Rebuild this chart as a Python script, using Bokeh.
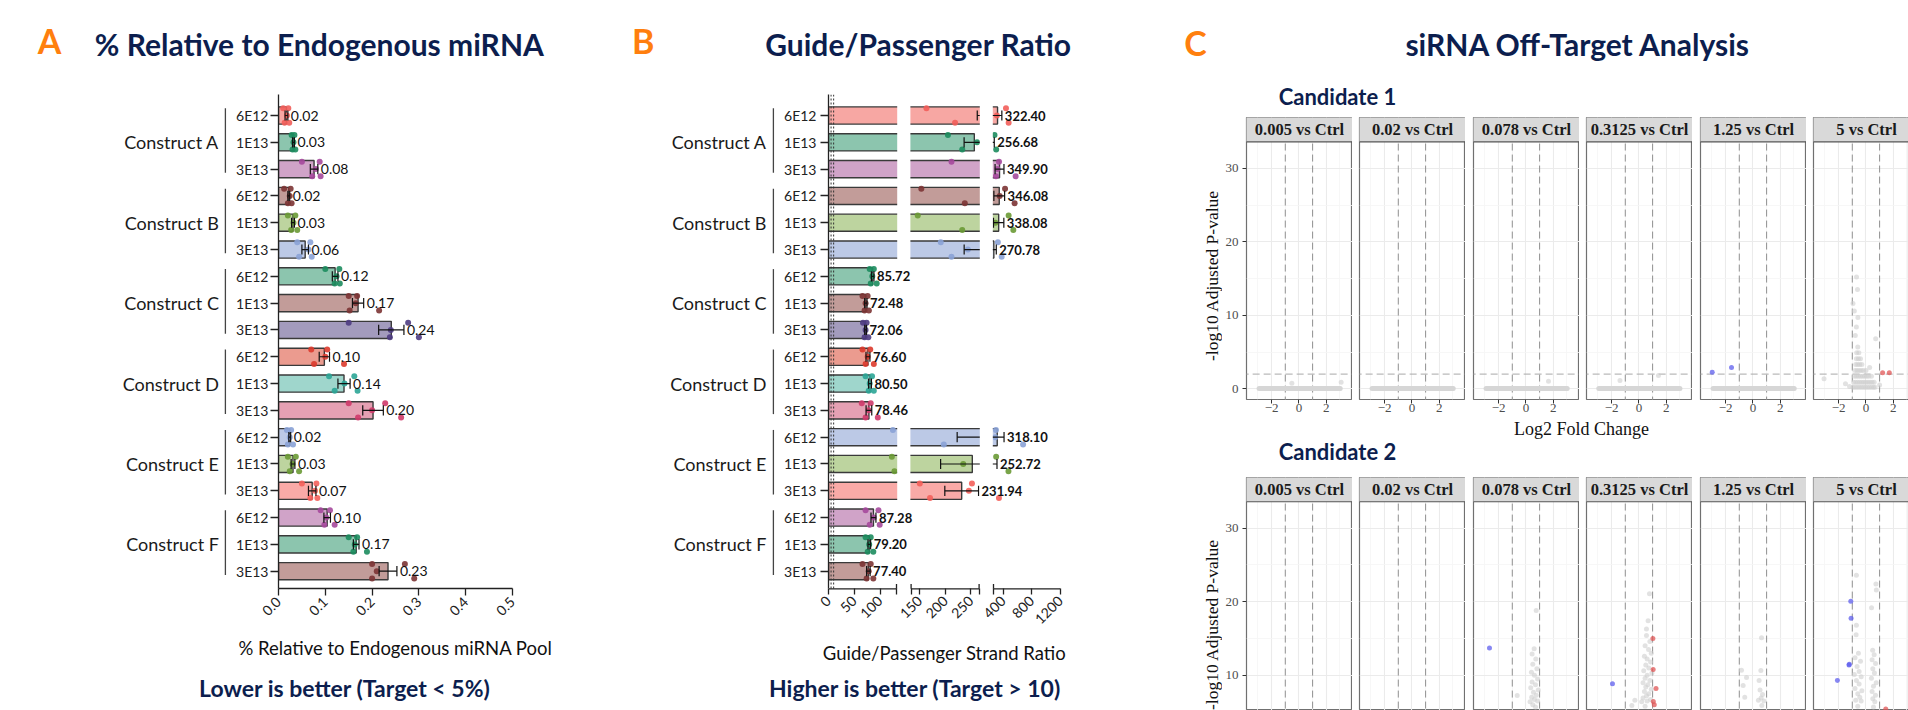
import math
from bokeh.plotting import figure
from bokeh.models import Range1d, FixedTicker, CustomJSTickFormatter, NumeralTickFormatter, Label
from bokeh.layouts import row, column
from bokeh.embed import file_html
from bokeh.resources import INLINE
from bokeh.core.properties import value

# ------------------------------------------------------------------ data
CONSTRUCTS = ["Construct A", "Construct B", "Construct C", "Construct D", "Construct E", "Construct F"]
DOSES = ["6E12", "1E13", "3E13"]
ROW_LABELS = [d for c in CONSTRUCTS for d in DOSES]

# Panel A: % relative to endogenous miRNA pool (mean, SEM, replicates)
REL_MEAN = [0.017, 0.032, 0.076, 0.022, 0.031, 0.057, 0.121, 0.170, 0.241,
            0.098, 0.140, 0.202, 0.024, 0.031, 0.072, 0.104, 0.166, 0.234]
REL_SEM = [0.003, 0.002, 0.008, 0.002, 0.003, 0.007, 0.006, 0.012, 0.027,
           0.011, 0.013, 0.022, 0.002, 0.004, 0.008, 0.007, 0.006, 0.019]
REL_PTS = [
    [0.010, 0.013, 0.018, 0.021, 0.023], [0.028, 0.030, 0.032, 0.034, 0.036], [0.050, 0.072, 0.080, 0.088, 0.090],
    [0.012, 0.020, 0.024, 0.026, 0.028], [0.020, 0.027, 0.032, 0.036, 0.040], [0.040, 0.044, 0.064, 0.068, 0.071],
    [0.100, 0.120, 0.124, 0.130, 0.131], [0.150, 0.152, 0.165, 0.168, 0.215], [0.150, 0.238, 0.240, 0.277, 0.300],
    [0.070, 0.076, 0.100, 0.104, 0.140], [0.108, 0.120, 0.141, 0.162, 0.169], [0.150, 0.170, 0.200, 0.228, 0.262],
    [0.018, 0.020, 0.024, 0.027, 0.031], [0.020, 0.024, 0.030, 0.037, 0.044], [0.050, 0.068, 0.078, 0.081, 0.083],
    [0.090, 0.098, 0.102, 0.110, 0.120], [0.150, 0.160, 0.163, 0.168, 0.189], [0.200, 0.200, 0.210, 0.270, 0.290],
]
REL_TICKS = [0.0, 0.1, 0.2, 0.3, 0.4, 0.5]

# Panel B: guide/passenger strand ratio
GP_MEAN = [322.40, 256.68, 349.90, 346.08, 338.08, 270.78, 85.72, 72.48, 72.06,
           76.60, 80.50, 78.46, 318.10, 252.72, 231.94, 87.28, 79.20, 77.40]
GP_SEM = [60, 20, 62, 75, 72, 34, 2.5, 2.3, 1.8, 3.8, 2.8, 5.5, 95, 62, 33, 4.8, 2.6, 3.4]
GP_PTS = [
    [163, 219, 313, 440, 477], [205, 233, 262, 280, 303.4], [212, 300, 320, 343, 574.5],
    [153, 238, 352, 427, 560.4], [146, 233, 292, 477, 542.4], [191, 212, 244, 327, 379.9],
    [80, 82, 85, 88, 93.6], [66, 70, 72, 76, 78.4], [67, 70, 72, 74, 77.3],
    [66, 72, 76, 81, 88], [72, 78, 80, 84.5, 88], [64.6, 72, 78, 82, 95.7],
    [125, 197, 290, 300, 678.5], [123, 128, 235, 303, 474.6], [150, 170, 246, 252, 341.7],
    [72, 80, 88, 97, 99.4], [72, 76, 79, 82, 87], [66, 74, 78, 82, 87],
]
GP_TICKS = [0, 50, 100, 150, 200, 250, 400, 800, 1200]
GP_REF_LINES = [5, 10]
# broken axis: (value_lo, value_hi) of each axis segment
GP_SEGMENTS = [(0, 132), (133, 266), (266, 1200)]

# Panel C: volcano facets
FACETS = ["0.005 vs Ctrl", "0.02 vs Ctrl", "0.078 vs Ctrl", "0.3125 vs Ctrl", "1.25 vs Ctrl", "5 vs Ctrl"]
LFC_TICKS = [-2, 0, 2]
LFC_MINOR = [-3, -1, 1, 3]
P_TICKS = [0, 10, 20, 30]
P_MINOR = [5, 15, 25]
LFC_CUT = [-1, 1]
P_CUT = 2

C1_BAND = [(-2.92, 3.02), (-2.92, 3.02), (-2.92, 3.02), (-2.94, 3.00), (-2.92, 3.02), None]
C1_GRAY = [
    [(-0.52, 0.76), (3.09, 0.9)],
    [],
    [(1.65, 1.03)],
    [(-1.39, 1.13), (1.43, 1.8)],
    [],
    [(-0.95, 0.2), (-0.8, 0.2), (-0.65, 0.2), (-0.5, 0.2), (-0.35, 0.2), (-0.2, 0.2), (-0.05, 0.2), (0.1, 0.2),
     (0.25, 0.2), (0.4, 0.2), (0.55, 0.2), (0.66, 0.2),
     (-0.9, 0.9), (-0.75, 0.9), (-0.6, 0.9), (-0.45, 0.9), (-0.3, 0.9), (-0.15, 0.9), (0.0, 0.9), (0.15, 0.9),
     (0.3, 0.9), (0.45, 0.9), (0.6, 0.9),
     (-0.85, 1.7), (-0.7, 1.7), (-0.55, 1.7), (-0.4, 1.7), (-0.25, 1.7), (-0.1, 1.7), (0.05, 1.7), (0.2, 1.7), (0.4, 1.7),
     (-0.8, 2.5), (-0.65, 2.5), (-0.5, 2.5), (-0.35, 2.5), (-0.2, 2.5), (0.0, 2.5),
     (-0.75, 3.3), (-0.6, 3.3), (-0.45, 3.3), (-0.3, 3.3),
     (-0.7, 4.1), (-0.55, 4.1), (-0.4, 4.1), (-0.68, 4.9), (-0.52, 4.9), (-0.6, 5.7),
     (-0.78, 7.25), (-0.7, 8.4), (-0.59, 9.7), (-0.85, 10.6), (-0.95, 11.6), (-0.62, 13.5), (-0.69, 15.2),
     (0.71, 6.8), (0.27, 2.9), (-3.07, 1.36), (-1.5, 0.68), (-1.2, 0.3), (1.0, 0.5)],
]
C1_BLUE = [[], [], [], [], [(-2.98, 2.26), (-1.57, 2.9)], []]
C1_RED = [[], [], [], [], [], [(1.22, 2.18), (1.71, 2.18)]]

C2_BAND = [None, None, None, None, None, None]
C2_GRAY = [
    [],
    [],
    [(0.75, 18.8), (0.6, 13.6), (0.45, 12.9), (0.72, 12.2), (0.5, 11.5), (0.8, 10.9), (0.4, 10.4), (0.62, 10.0),
     (0.85, 9.5), (0.45, 9.1), (0.7, 8.7), (0.35, 8.3), (0.9, 8.0), (0.55, 7.7), (0.75, 7.3), (0.42, 7.0),
     (0.62, 6.7), (0.85, 6.5), (0.3, 6.4), (-0.64, 7.25), (0.5, 6.0), (0.7, 5.7)],
    [(0.77, 21.1), (0.67, 17.4), (0.55, 16.3), (0.55, 15.4), (0.8, 14.6), (0.45, 14.0), (0.7, 13.5), (0.9, 13.0),
     (0.4, 12.6), (0.6, 12.2), (0.85, 11.8), (0.5, 11.4), (0.72, 11.0), (0.35, 10.6), (0.95, 10.3), (0.6, 10.0),
     (0.45, 9.6), (0.8, 9.3), (0.3, 9.0), (0.65, 8.7), (0.5, 8.4), (0.9, 8.1), (0.4, 7.8), (0.72, 7.5),
     (0.55, 7.2), (0.3, 6.9), (0.85, 6.7), (0.6, 6.5), (0.2, 6.4), (-0.52, 5.9), (-0.3, 6.6), (0.45, 5.8)],
    [(0.63, 15.1), (-0.84, 10.7), (-0.47, 9.7), (0.58, 10.65), (0.45, 9.3), (-0.72, 8.6), (0.52, 8.0),
     (0.7, 7.4), (0.6, 6.9), (0.8, 6.5), (-0.6, 7.0), (0.4, 6.6), (0.65, 5.9)],
    [(-0.7, 23.6), (0.73, 22.4), (0.76, 21.6), (0.41, 19.2), (-0.7, 16.8), (-0.72, 15.5), (0.49, 13.4),
     (0.6, 12.8), (-0.55, 13.0), (-0.8, 12.4), (-0.4, 11.9), (0.45, 12.1), (0.7, 11.6), (-0.65, 11.2),
     (0.5, 10.9), (-0.5, 10.5), (-0.85, 10.1), (0.62, 10.3), (-0.35, 9.8), (0.4, 9.6), (-0.7, 9.3),
     (0.75, 9.0), (-0.5, 8.8), (0.55, 8.5), (-0.8, 8.2), (-0.3, 7.9), (0.45, 7.8), (-0.6, 7.5), (0.7, 7.3),
     (-0.45, 7.0), (0.5, 6.8), (-0.75, 6.6), (0.65, 6.4), (-0.35, 6.5), (-0.6, 5.8), (0.55, 5.7)],
]
C2_BLUE = [[], [], [(-2.67, 13.7)], [(-1.94, 8.84)], [],
           [(-1.11, 20.07), (-1.09, 17.76), (-1.24, 11.4), (-1.22, 11.5), (-2.09, 9.29)]]
C2_RED = [[], [], [], [(1.02, 15.0), (1.04, 10.8), (1.25, 8.2), (1.05, 6.45), (1.12, 6.0)], [],
          [(1.45, 5.4)]]

# ------------------------------------------------------------------ styles
BAR_FILL = ["#f7a7a3", "#8cc5ae", "#d0a3c8", "#c29c99", "#bdd49f", "#bcc9e6",
            "#8cc5ae", "#c29c99", "#a39bbd", "#eb9b8f", "#9fd6cc", "#e5a0b3",
            "#bcc9e6", "#bdd49f", "#f9aaa7", "#d0a3c8", "#8cc5ae", "#c29c99"]
DOT_FILL = ["#f25e5a", "#1c8c5e", "#a5499c", "#7c3434", "#6a9a35", "#8aa2d6",
            "#1c8c5e", "#7c3434", "#4e3c82", "#dc3a2c", "#2ba596", "#cf3a6a",
            "#8aa2d6", "#6a9a35", "#f4605b", "#a5499c", "#1c8c5e", "#7c3434"]
JIT = [-0.27, 0.27, 0.0, -0.27, 0.27]
NAVY = "#0c1e4e"
ORANGE = "#ff7f0e"
LATO = "Lato"
SERIF = "Liberation Serif"
INK = "#1a1a1a"

ROW0, ROWH = 115.0, 26.806           # page y of first row centre, row pitch


def prow(py):
    return (py - ROW0) / ROWH


NROW = len(ROW_LABELS)
ROWS = list(range(NROW))


def blank(w, h):
    p = figure(x_range=Range1d(0, w), y_range=Range1d(h, 0), frame_width=w, frame_height=h,
               x_axis_location=None, y_axis_location=None, output_backend="svg", toolbar_location=None)
    p.min_border_left = p.min_border_right = p.min_border_top = p.min_border_bottom = 0
    p.grid.visible = False
    p.outline_line_color = None
    return p


def lab(p, x, y, text, size, color, bold=True, font=LATO, align="center", angle=0.0):
    p.add_layout(Label(x=x, y=y, text=text, text_font=font, text_font_size=f"{size}px",
                       text_font_style="bold" if bold else "normal", text_color=color,
                       text_align=align, text_baseline="middle", angle=angle))


def style_axis(ax, font, size, color, tick_out, tick_in, standoff):
    ax.major_label_text_font = font
    ax.major_label_text_font_size = f"{size}px"
    ax.major_label_text_color = color
    ax.major_tick_out = tick_out
    ax.major_tick_in = tick_in
    ax.minor_tick_out = 0
    ax.minor_tick_in = 0
    ax.major_label_standoff = standoff
    ax.major_tick_line_color = "#222222"
    ax.major_tick_line_width = 1.3


def group_fig(w, yr, fh, mb, label_right, bracket_x):
    g = figure(x_range=Range1d(0, w), y_range=yr, frame_width=w, frame_height=fh,
               x_axis_location=None, y_axis_location=None, output_backend="svg", toolbar_location=None)
    g.min_border_left = g.min_border_right = g.min_border_top = 0
    g.min_border_bottom = mb
    g.grid.visible = False
    g.outline_line_color = None
    mids = [3 * i + 1 for i in range(len(CONSTRUCTS))]
    g.text(x=[label_right] * len(mids), y=mids, text=CONSTRUCTS, text_align="right", text_baseline="middle",
           text_font=value(LATO), text_font_size=value("18px"), text_color=INK)
    g.segment(x0=[bracket_x] * len(mids), y0=[3 * i - 0.27 for i in range(len(CONSTRUCTS))],
              x1=[bracket_x] * len(mids), y1=[3 * i + 2.14 for i in range(len(CONSTRUCTS))],
              line_color="#444444", line_width=1.3)
    return g


def flat_points(pts, tf):
    xs, ys, cs = [], [], []
    for i, grp in enumerate(pts):
        for j, v in enumerate(grp):
            xs.append(tf(v))
            ys.append(i + JIT[j % len(JIT)])
            cs.append(DOT_FILL[i])
    return xs, ys, cs


def axis_title(ax, text, standoff):
    ax.axis_label = text
    ax.axis_label_text_font = LATO
    ax.axis_label_text_font_size = "18.5px"
    ax.axis_label_text_font_style = "normal"
    ax.axis_label_text_color = "#111111"
    ax.axis_label_standoff = standoff


# ------------------------------------------------------------------ panel A  (page x 0..620)
yrA = Range1d(prow(588), prow(94))
pA = figure(x_range=Range1d(0, 0.5), y_range=yrA, frame_width=234, frame_height=494,
            output_backend="svg", toolbar_location=None)
pA.min_border_left, pA.min_border_right, pA.min_border_top, pA.min_border_bottom = 48, 108, 0, 82
pA.grid.visible = False
pA.outline_line_color = None
pA.hbar(y=ROWS, left=0, right=REL_MEAN, height=0.64, fill_color=BAR_FILL, line_color="#3a3a3a", line_width=1.4)
dx, dy, dc = flat_points(REL_PTS, lambda v: v)
pA.scatter(x=dx, y=dy, size=6, fill_color=dc, line_color=None, fill_alpha=0.9)
loA = [m - s for m, s in zip(REL_MEAN, REL_SEM)]
hiA = [m + s for m, s in zip(REL_MEAN, REL_SEM)]
pA.segment(x0=loA, y0=ROWS, x1=hiA, y1=ROWS, line_color="#111111", line_width=1.2)
pA.segment(x0=loA + hiA, y0=[r - 0.19 for r in ROWS] * 2, x1=loA + hiA, y1=[r + 0.19 for r in ROWS] * 2,
           line_color="#111111", line_width=1.2)
pA.text(x=hiA, y=ROWS, text=[f"{m:.2f}" for m in REL_MEAN], x_offset=3, text_align="left",
        text_baseline="middle", text_font=value(LATO), text_font_size=value("14px"), text_color="#111111")
xa = pA.xaxis[0]
xa.ticker = FixedTicker(ticks=REL_TICKS)
xa.formatter = NumeralTickFormatter(format="0.0")
xa.major_label_orientation = math.pi / 4
style_axis(xa, LATO, 14, "#222222", 7, 0, 4)
xa.axis_line_color = "#222222"
xa.axis_line_width = 1.3
axis_title(xa, "% Relative to Endogenous miRNA Pool", 14)
ya = pA.yaxis[0]
ya.ticker = FixedTicker(ticks=ROWS)
ya.formatter = CustomJSTickFormatter(args=dict(labs=ROW_LABELS), code="return labs[Math.round(tick)] || '';")
style_axis(ya, LATO, 14, "#222222", 8, 0, 2)
ya.axis_line_color = "#222222"
ya.axis_line_width = 1.3
ya.bounds = (prow(94), prow(587.7))

gA = group_fig(230, yrA, 494, 82, 218.4, 224.9)
headA = blank(620, 94)
lab(headA, 49, 39.8, "A", 34, ORANGE)
lab(headA, 318.8, 43.3, "% Relative to Endogenous miRNA", 30, NAVY)
footA = blank(620, 40)
lab(footA, 344.4, 687.5 - 670, "Lower is better (Target < 5%)", 23, NAVY)

# ------------------------------------------------------------------ panel B  (page x 620..1170, broken axis)
SEG_PX = [(0.0, 68.0), (82.6, 150.6), (165.0, 232.0)]   # display extents of the axis segments


def gp_x(v):
    for (lo, hi), (d0, d1) in zip(GP_SEGMENTS, SEG_PX):
        if v <= hi:
            if v < lo:
                return d0
            return d0 + (v - lo) / (hi - lo) * (d1 - d0)
    return SEG_PX[-1][1]


yrB = Range1d(prow(590), prow(94))
pB = figure(x_range=Range1d(0, 232), y_range=yrB, frame_width=232, frame_height=496,
            output_backend="svg", toolbar_location=None)
pB.min_border_left, pB.min_border_right, pB.min_border_top, pB.min_border_bottom = 50, 110, 0, 80
pB.grid.visible = False
pB.outline_line_color = None
pB.hbar(y=ROWS, left=0, right=[gp_x(m) for m in GP_MEAN], height=0.64, fill_color=BAR_FILL,
        line_color="#3a3a3a", line_width=1.4)
bx, by, bc = flat_points(GP_PTS, gp_x)
pB.scatter(x=bx, y=by, size=6, fill_color=bc, line_color=None, fill_alpha=0.9)
loB = [gp_x(m - s) for m, s in zip(GP_MEAN, GP_SEM)]
hiB = [gp_x(m + s) for m, s in zip(GP_MEAN, GP_SEM)]
pB.segment(x0=loB, y0=ROWS, x1=hiB, y1=ROWS, line_color="#111111", line_width=1.2)
pB.segment(x0=loB + hiB, y0=[r - 0.19 for r in ROWS] * 2, x1=loB + hiB, y1=[r + 0.19 for r in ROWS] * 2,
           line_color="#111111", line_width=1.2)
gapL = [SEG_PX[0][1] + 0.7, SEG_PX[1][1] + 0.7]
gapR = [SEG_PX[1][0] - 0.7, SEG_PX[2][0] - 0.7]
pB.quad(left=gapL, right=gapR, bottom=[prow(600)] * 2, top=[prow(80)] * 2, fill_color="white", line_color=None)
pB.text(x=hiB, y=ROWS, text=[f"{m:.2f}" for m in GP_MEAN], x_offset=3, text_align="left",
        text_baseline="middle", text_font=value(LATO), text_font_size=value("13px"),
        text_font_style="bold", text_color="#111111")
ref_x = [gp_x(v) for v in GP_REF_LINES]
pB.segment(x0=ref_x, y0=[prow(94)] * len(ref_x), x1=ref_x, y1=[prow(588.3)] * len(ref_x),
           line_color="#333333", line_width=1, line_dash="2 2")
axis_y = prow(588.3)
pB.segment(x0=[s[0] for s in SEG_PX], y0=[axis_y] * 3, x1=[s[1] for s in SEG_PX], y1=[axis_y] * 3,
           line_color="#222222", line_width=1.3)
ends = [SEG_PX[0][1], SEG_PX[1][0], SEG_PX[1][1], SEG_PX[2][0]]
pB.segment(x0=ends, y0=[axis_y] * 4, x1=ends, y1=[prow(583.5)] * 4, line_color="#222222", line_width=1.3)
xb = pB.xaxis[0]
tick_pos = [gp_x(v) for v in GP_TICKS] + ends
tick_lab = [str(v) for v in GP_TICKS] + [""] * len(ends)
xb.ticker = FixedTicker(ticks=tick_pos)
xb.formatter = CustomJSTickFormatter(args=dict(pos=tick_pos, labs=tick_lab), code="""
for (let i = 0; i < pos.length; i++) { if (Math.abs(tick - pos[i]) < 0.01) { return labs[i]; } }
return '';""")
xb.major_label_orientation = math.pi / 4
style_axis(xb, LATO, 14, "#222222", 4, 2, 4)
xb.axis_line_color = None
axis_title(xb, "Guide/Passenger Strand Ratio", 10)
yb = pB.yaxis[0]
yb.ticker = FixedTicker(ticks=ROWS)
yb.formatter = CustomJSTickFormatter(args=dict(labs=ROW_LABELS), code="return labs[Math.round(tick)] || '';")
style_axis(yb, LATO, 14, "#222222", 8, 0, 4)
yb.axis_line_color = "#222222"
yb.axis_line_width = 1.3
yb.bounds = (prow(94), prow(588.3))

gB = group_fig(158, yrB, 496, 80, 766 - 620, 772.9 - 620)
headB = blank(550, 94)
lab(headB, 642.6 - 620, 40.0, "B", 34, ORANGE)
lab(headB, 918 - 620, 43.3, "Guide/Passenger Ratio", 30, NAVY)
footB = blank(550, 40)
lab(footB, 914.6 - 620, 687.5 - 670, "Higher is better (Target > 10)", 23, NAVY)

# ------------------------------------------------------------------ panel C  (page x 1170..1908)
XS = 13.66
X0 = -3.84
FW = [106, 106, 106, 106, 106, 96]
GAPL = [23, 7, 8, 7, 8, 7]
STRIP_BOT = 33.6
YT_W = 52
HEAD_C_H, ROW1_H, MID_C_H, ROW2_H = 112, 306, 52, 240


def facet(k, band, gray, blue, red, first_row):
    if first_row:
        yr = Range1d(-1.456, 36.91)
        fh, mt, mb = 282, 5, 19
    else:
        yr = Range1d(5.21, 36.90)
        fh, mt, mb = 233, 7, 0
    xr = Range1d(X0, X0 + FW[k] / XS)
    p = figure(x_range=xr, y_range=yr, frame_width=FW[k], frame_height=fh,
               x_axis_location="below" if first_row else None,
               y_axis_location="left" if k == 0 else None,
               output_backend="svg", toolbar_location=None)
    p.min_border_left, p.min_border_right, p.min_border_top, p.min_border_bottom = GAPL[k], 0, mt, mb
    p.xgrid.ticker = FixedTicker(ticks=LFC_TICKS, minor_ticks=LFC_MINOR)
    p.ygrid.ticker = FixedTicker(ticks=P_TICKS, minor_ticks=P_MINOR)
    for g in list(p.xgrid) + list(p.ygrid):
        g.grid_line_color = "#ebebeb"
        g.grid_line_width = 1.1
        g.minor_grid_line_color = "#f5f5f5"
        g.minor_grid_line_width = 0.8
    p.outline_line_color = "#707070"
    p.outline_line_width = 1.2
    p.segment(x0=LFC_CUT, y0=[-5] * 2, x1=LFC_CUT, y1=[STRIP_BOT] * 2, line_color="#8f8f8f",
              line_width=1, line_dash="7 4")
    p.segment(x0=[-5], y0=[P_CUT], x1=[5], y1=[P_CUT], line_color="#a8a8a8", line_width=1, line_dash="7 4")
    if band is not None:
        p.segment(x0=[band[0]], y0=[0.05], x1=[band[1]], y1=[0.05], line_color="#d6d6d6",
                  line_width=5, line_cap="round")
    if gray:
        p.scatter(x=[q[0] for q in gray], y=[q[1] for q in gray], size=5, fill_color="#cfcfcf",
                  fill_alpha=0.6, line_color=None)
    if blue:
        p.scatter(x=[q[0] for q in blue], y=[q[1] for q in blue], size=5, fill_color="#5f5fee",
                  fill_alpha=0.75, line_color=None)
    if red:
        p.scatter(x=[q[0] for q in red], y=[q[1] for q in red], size=5, fill_color="#e05555",
                  fill_alpha=0.75, line_color=None)
    p.quad(left=[X0 - 1], right=[X0 + 9], bottom=[STRIP_BOT], top=[45], fill_color="#d9d9d9",
           line_color="#555555", line_width=1.2)
    p.text(x=[0.04], y=[35.25], text=[FACETS[k]], text_align="center", text_baseline="middle",
           text_font=value(SERIF), text_font_size=value("16.5px"), text_font_style="bold", text_color=INK)
    if first_row:
        ax = p.xaxis[0]
        ax.ticker = FixedTicker(ticks=LFC_TICKS)
        style_axis(ax, SERIF, 13, "#4d4d4d", 4, 0, 0)
        ax.major_tick_line_color = "#333333"
        ax.major_tick_line_width = 1
        ax.axis_line_color = None
    if k == 0:
        ay = p.yaxis[0]
        ay.ticker = FixedTicker(ticks=P_TICKS)
        style_axis(ay, SERIF, 13, "#4d4d4d", 4, 0, 4)
        ay.major_tick_line_color = "#333333"
        ay.major_tick_line_width = 1
        ay.axis_line_color = None
    return p


def ytitle(h, ypage_rel):
    t = blank(YT_W, h)
    lab(t, 1211.7 - 1170, ypage_rel, "-log10 Adjusted P-value", 17.5, "#111111", bold=False, font=SERIF,
        angle=math.pi / 2)
    return t


row1 = [ytitle(ROW1_H, 270 - HEAD_C_H)] + \
       [facet(k, C1_BAND[k], C1_GRAY[k], C1_BLUE[k], C1_RED[k], True) for k in range(6)]
# second candidate's panel is cut by the window; keep its axis title fully on the page
row2 = [ytitle(ROW2_H, 617 - 470)] + \
       [facet(k, C2_BAND[k], C2_GRAY[k], C2_BLUE[k], C2_RED[k], False) for k in range(6)]

headC = blank(738, HEAD_C_H)
lab(headC, 1195 - 1170, 41.7, "C", 34, ORANGE)
lab(headC, 1577.7 - 1170, 43.8, "siRNA Off-Target Analysis", 30, NAVY)
lab(headC, 1337 - 1170, 96.2, "Candidate 1", 22, NAVY)
MID_TOP = HEAD_C_H + ROW1_H
midC = blank(738, MID_C_H)
lab(midC, 1581 - 1170, 428.8 - MID_TOP, "Log2 Fold Change", 18, "#111111", bold=False, font=SERIF)
lab(midC, 1337 - 1170, 450.8 - MID_TOP, "Candidate 2", 22, NAVY)

colA = column(headA, row(gA, pA), footA)
colB = column(headB, row(gB, pB), footB)
colC = column(headC, row(*row1), midC, row(*row2))
layout = row(colA, colB, colC)

open("out.html", "w").write(file_html(layout, INLINE))
